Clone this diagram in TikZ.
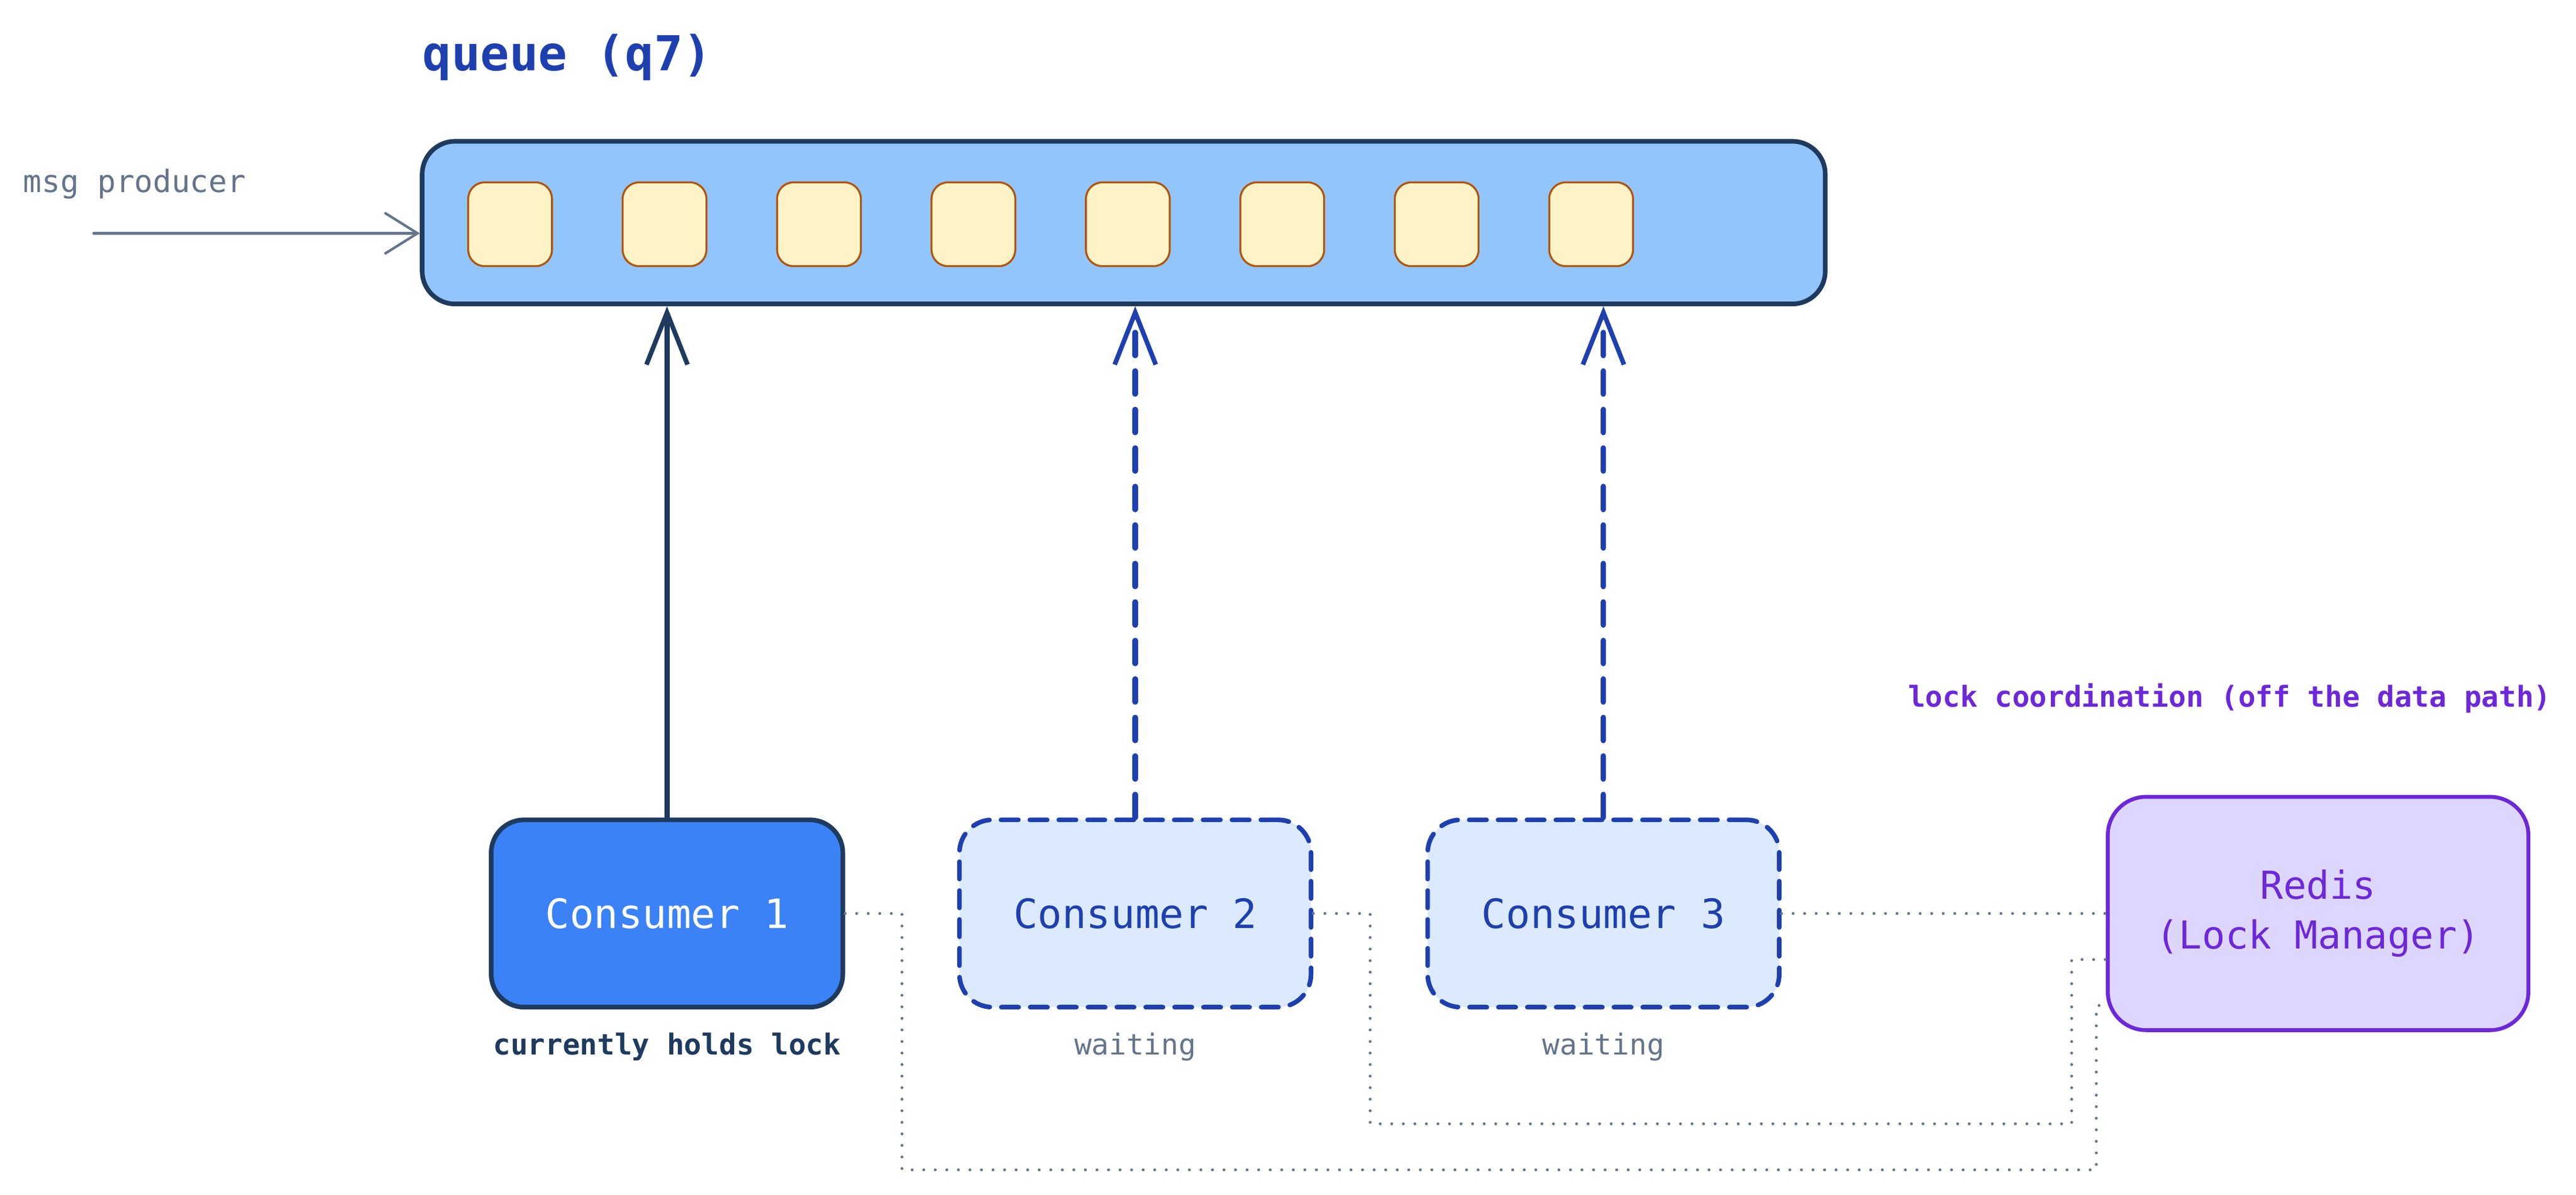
\documentclass[tikz,border=0pt]{standalone}
\usepackage{fontspec}
\setmainfont{DejaVu Sans Mono}
\usetikzlibrary{positioning, arrows.meta}
\definecolor{qblue}{HTML}{93C5FD}
\definecolor{navy}{HTML}{1E3A5F}
\definecolor{royal}{HTML}{1E40AF}
\definecolor{cblue}{HTML}{3B82F6}
\definecolor{pale}{HTML}{DBEAFE}
\definecolor{msgfill}{HTML}{FEF3C7}
\definecolor{msgdraw}{HTML}{B45309}
\definecolor{slate}{HTML}{64748B}
\definecolor{violet}{HTML}{6D28D9}
\definecolor{lilac}{HTML}{DDD6FE}

\begin{document}
\begin{tikzpicture}[x=0.03cm, y=-0.03cm,
                    line cap=round, line join=round,
                    msg/.style={draw=msgdraw, fill=msgfill, line width=1pt, rounded corners=0.3cm,
                                minimum width=1.53cm, minimum height=1.53cm},
                    consumer/.style={rounded corners=0.6cm, minimum width=6.42cm, minimum height=3.42cm,
                                     line width=2.4pt, font=\fontsize{21}{25}\selectfont},
                    waiting/.style={consumer, dashed, dash pattern=on 9pt off 6pt, draw=royal, fill=pale, text=royal},
                    caption/.style={font=\fontsize{15}{18}\selectfont},
                    pull/.style={line width=2.8pt, -{Straight Barb[length=0.95cm, width=0.75cm, line width=2.4pt]}},
                    lockline/.style={slate, line width=1.5pt, dash pattern=on 0pt off 6pt}]
  \useasboundingbox (0,0) rectangle (1568,727);

  % title and queue
  \node[anchor=west, text=royal, font=\fontsize{25}{30}\selectfont\bfseries] (title) at (253,35) {queue (q7)};
  \node[draw=navy, fill=qblue, line width=2.4pt, rounded corners=0.6cm,
        minimum width=25.62cm, minimum height=2.97cm] (queue) at (684,135.5) {};
  \foreach \i in {0,...,7}
    \node[msg] (m\i) at (310.5+\i*94,136.5) {};

  % producer
  \node[anchor=west, text=slate, caption, font=\fontsize{16}{19}\selectfont] (prod) at (10,112) {msg producer};
  \coordinate (src) at (57,142);
  \draw[slate, line width=1.3pt, -{Straight Barb[length=0.6cm, width=0.75cm]}] (src) -- (queue.west |- src);

  % consumers
  \node[consumer, draw=navy, fill=cblue, text=white] (c1) at (406,556) {Consumer 1};
  \node[waiting] (c2) at (691,556) {Consumer 2};
  \node[waiting] (c3) at (976,556) {Consumer 3};
  \node[below=0.3cm of c1, text=navy, caption, font=\fontsize{15}{18}\selectfont\bfseries] (l1) {currently holds lock};
  \node[below=0.3cm of c2, text=slate, caption] (l2) {waiting};
  \node[below=0.3cm of c3, text=slate, caption] (l3) {waiting};

  \draw[pull, navy] (c1) -- (c1 |- queue.south);
  \draw[pull, royal, dash pattern=on 12pt off 8pt] (c2) -- (c2 |- queue.south);
  \draw[pull, royal, dash pattern=on 12pt off 8pt] (c3) -- (c3 |- queue.south);

  % lock manager
  \node[draw=violet, fill=lilac, text=violet, line width=2pt, rounded corners=0.7cm,
        minimum width=7.68cm, minimum height=4.26cm, align=center,
        font=\fontsize{20}{26}\selectfont] (redis) at (1411,556) {Redis\\(Lock Manager)};
  \node[anchor=east, text=violet, font=\fontsize{15}{18}\selectfont\bfseries] (coord) at (1557,425)
    {lock coordination (off the data path)};

  \draw[lockline] (c3.east) -- (redis.west |- c3.east);
  \draw[lockline] (c2.east) -| (834,684) -| (1261,584) -- (redis.west |- 0,584);
  \draw[lockline] (c1.east) -| (549,712) -| (1276,612) -- (redis.west |- 0,612);
\end{tikzpicture}
\end{document}
